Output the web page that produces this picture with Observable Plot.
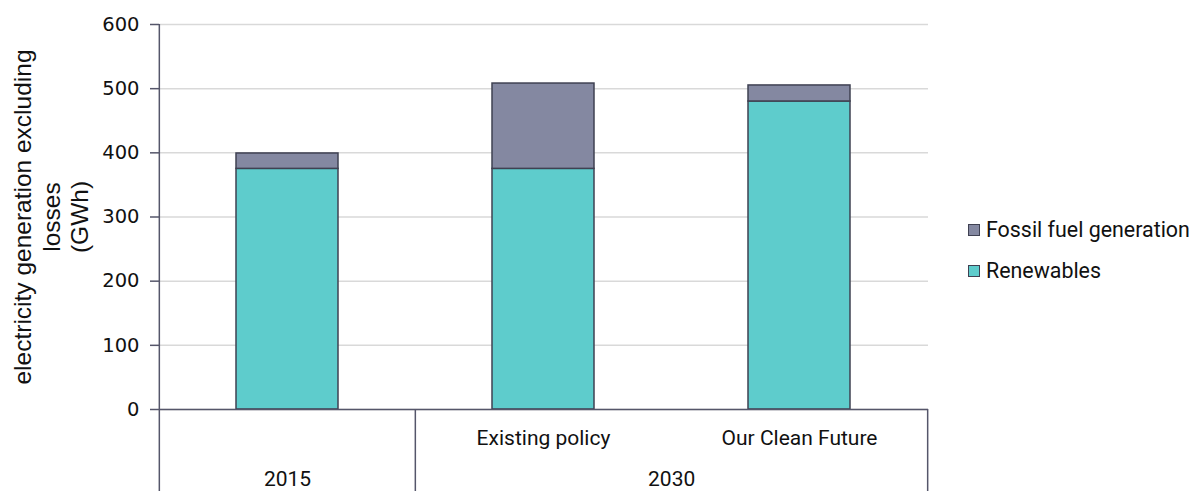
<!DOCTYPE html>
<html>
<head>
<meta charset="utf-8">
<script src="https://cdn.jsdelivr.net/npm/d3@7"></script>
<script src="https://cdn.jsdelivr.net/npm/@observablehq/plot@0.6"></script>
<style>
  html, body { margin: 0; padding: 0; background: #fff; }
  #chart { position: relative; width: 1196px; height: 491px; }
  #legend {
    position: absolute; left: 968px; top: 209px;
    font-family: Roboto, "Liberation Sans", sans-serif; font-size: 21.4px; color: #111;
  }
  #legend .item { display: flex; align-items: center; height: 41px; }
  #legend .swatch {
    width: 10px; height: 10px; border: 1px solid #3f4152; margin-right: 6px;
  }
</style>
</head>
<body>
<div id="chart"><div id="legend"></div></div>
<script>
// Electricity generation by source (GWh)
const categories = ["2015", "Existing policy", "Our Clean Future"];
const yearOf = ["2015", "2030", "2030"];
const scenarioLabels = ["", "Existing policy", "Our Clean Future"];
const renewables = [375, 375, 480];
const fossil = [24, 133, 25];
const sources = ["Renewables", "Fossil fuel generation"];
const legendOrder = ["Fossil fuel generation", "Renewables"];
const yTicks = [0, 100, 200, 300, 400, 500, 600];

const colors = {"Renewables": "#5ecccc", "Fossil fuel generation": "#8488a1"};
const ink = "#3f4152";
const axisInk = "#55566a";

// Long table for stacking
const rows = [];
categories.forEach((c, i) => {
  rows.push({category: c, source: "Renewables", value: renewables[i]});
  rows.push({category: c, source: "Fossil fuel generation", value: fossil[i]});
});

// Year groups for the two-level category axis
const groups = [];
categories.forEach((c, i) => {
  const g = groups.find(d => d.year === yearOf[i]);
  if (g) g.members.push(c); else groups.push({year: yearOf[i], members: [c]});
});

const W = 1196, H = 491;
const ML = 159, MR = 268, MT = 24, MB = 82;
const padInner = 0.6, padOuter = 0.3;
const step = (W - ML - MR) / (categories.length - padInner + 2 * padOuter);
const plotH = H - MT - MB;

const font = "Roboto, 'Liberation Sans', sans-serif";

// one label per year group, centred across the group's members
const yearLabels = groups.map(g => Plot.text([g], {
  x: d => d.members[0], text: "year", frameAnchor: "bottom", lineAnchor: "middle",
  dx: (g.members.length - 1) * step / 2, dy: 70,
  fontFamily: font, fontSize: 21, fill: "#111"
}));

const plot = Plot.plot({
  width: W,
  height: H,
  marginLeft: ML,
  marginRight: MR,
  marginTop: MT,
  marginBottom: MB,
  style: {fontFamily: "'Liberation Sans', Arial, sans-serif", fontSize: "20px", color: "#111", background: "#fff"},
  x: {type: "band", domain: categories, paddingInner: padInner, paddingOuter: padOuter, axis: null},
  y: {domain: [0, 600], axis: null},
  color: {domain: Object.keys(colors), range: Object.values(colors)},
  marks: [
    Plot.gridY(yTicks, {stroke: "#d9d9d9", strokeOpacity: 1, strokeWidth: 1.5}),
    Plot.barY(rows, Plot.stackY({
      x: "category", y: "value", fill: "source", z: "source",
      order: sources,
      stroke: ink, strokeWidth: 1.5
    })),
    Plot.ruleY([0], {stroke: axisInk, strokeWidth: 1.5}),
    Plot.axisY(yTicks, {
      tickSize: 9, tickPadding: 11, stroke: axisInk, strokeWidth: 1.5,
      fill: "#111", fontSize: 19.5, fontFamily: "'DejaVu Sans', sans-serif", label: null
    }),
    // vertical axis line, running down through the category rows
    Plot.ruleX([categories[0]], {dx: -step / 2, insetBottom: -MB, stroke: axisInk, strokeWidth: 1.5}),
    // group separators below the baseline
    Plot.ruleX(groups.slice(1), {x: d => d.members[0], dx: -step / 2, insetTop: plotH, insetBottom: -MB, stroke: axisInk, strokeWidth: 1.5}),
    Plot.ruleX([categories[categories.length - 1]], {dx: step / 2, insetTop: plotH, insetBottom: -MB, stroke: axisInk, strokeWidth: 1.5}),
    // scenario labels
    Plot.text(categories.map((c, i) => ({c, label: scenarioLabels[i]})), {
      x: "c", text: "label", frameAnchor: "bottom", lineAnchor: "middle", dy: 29,
      fontFamily: font, fontSize: 21, fill: "#111"
    }),
    ...yearLabels,
    // y axis title
    Plot.text(["electricity generation excluding\nlosses\n(GWh)"], {
      frameAnchor: "left", textAnchor: "middle", lineAnchor: "middle", rotate: -90,
      dx: -109, lineHeight: 1.15,
      fontFamily: "'Liberation Sans', Arial, sans-serif", fontSize: 24.5, fill: "#111"
    })
  ]
});

document.getElementById("chart").prepend(plot);

const legend = d3.select("#legend");
legendOrder.forEach(s => {
  const item = legend.append("div").attr("class", "item");
  item.append("div").attr("class", "swatch").style("background", colors[s]);
  item.append("span").text(s);
});
</script>
</body>
</html>
